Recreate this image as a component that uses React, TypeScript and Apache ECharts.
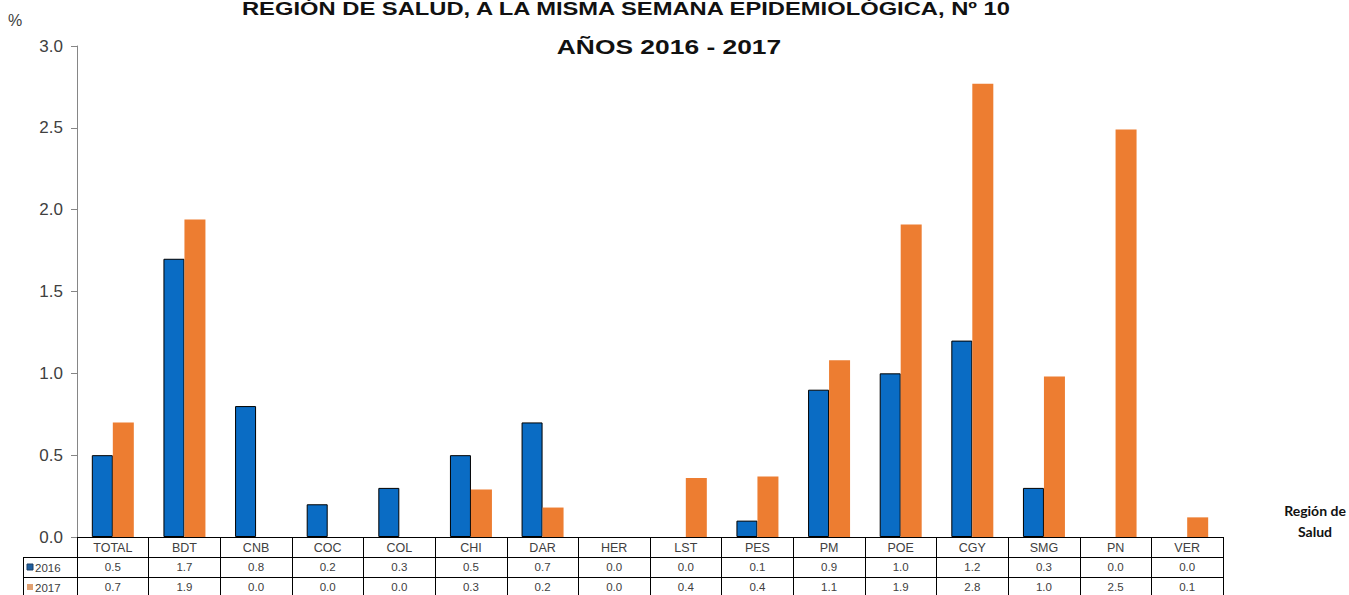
import React, { useEffect, useRef } from "react";
import * as echarts from "echarts";

const categories = ["TOTAL", "BDT", "CNB", "COC", "COL", "CHI", "DAR", "HER", "LST", "PES", "PM", "POE", "CGY", "SMG", "PN", "VER"];
const values2016 = [0.5, 1.7, 0.8, 0.2, 0.3, 0.5, 0.7, 0.0, 0.0, 0.1, 0.9, 1.0, 1.2, 0.3, 0.0, 0.0];
const values2017 = [0.7, 1.94, 0.0, 0.0, 0.0, 0.29, 0.18, 0.0, 0.36, 0.37, 1.08, 1.91, 2.77, 0.98, 2.49, 0.12];
const seriesNames = ["2016", "2017"];
const yTicks = [0, 0.5, 1.0, 1.5, 2.0, 2.5, 3.0];

const BLUE = "#0A6CC4";
const ORANGE = "#ED7D31";
const TXT = "#404040";
const FONT = "'Liberation Sans', Arial, sans-serif";

export default function App() {
  const ref = useRef<HTMLDivElement>(null);

  useEffect(() => {
    if (!ref.current) return;
    const chart = echarts.init(ref.current, undefined, { renderer: "svg" });

    const tableAxis = (offset: number, values: number[]) => ({
      type: "category",
      position: "bottom",
      offset,
      data: categories,
      axisLine: { show: true, lineStyle: { color: "#000", width: 1 } },
      axisTick: { show: false },
      axisLabel: {
        interval: 0,
        margin: 4,
        fontSize: 11.5,
        color: TXT,
        fontFamily: FONT,
        formatter: (_v: string, i: number) => values[i].toFixed(1),
      },
    });

    const barData = (values: number[]) =>
      values.map((v) => (v === 0 ? { value: v, itemStyle: { borderWidth: 0, opacity: 0 } } : v));

    chart.setOption({
      animation: false,
      grid: { left: 77, right: 126, top: 46, bottom: 58, containLabel: false },
      xAxis: [
        {
          type: "category",
          position: "bottom",
          data: categories,
          axisLine: { show: true, lineStyle: { color: "#000", width: 1 } },
          axisTick: { show: true, interval: 0, length: 62, lineStyle: { color: "#000", width: 1 } },
          axisLabel: { interval: 0, margin: 4, fontSize: 12.5, color: TXT, fontFamily: FONT },
        },
        tableAxis(20, values2016),
        tableAxis(40, values2017),
      ],
      yAxis: {
        type: "value",
        min: 0,
        max: 3,
        interval: 0.5,
        axisLine: { show: true, lineStyle: { color: "#868686" } },
        axisTick: { show: true, length: 6, lineStyle: { color: "#868686" } },
        splitLine: { show: false },
        axisLabel: {
          margin: 14,
          fontSize: 17,
          color: TXT,
          fontFamily: FONT,
          formatter: (v: number) => (yTicks.includes(v) ? v.toFixed(1) : ""),
        },
      },
      series: [
        {
          name: seriesNames[0],
          type: "bar",
          xAxisIndex: 0,
          data: barData(values2016),
          barWidth: 21,
          barGap: "0%",
          itemStyle: { color: BLUE, borderColor: "#000", borderWidth: 1 },
        },
        {
          name: seriesNames[1],
          type: "bar",
          xAxisIndex: 0,
          data: barData(values2017),
          barWidth: 21,
          barGap: "0%",
          itemStyle: { color: ORANGE, borderColor: ORANGE, borderWidth: 0 },
        },
      ],
      graphic: [
        {
          type: "text",
          x: 626,
          y: 9,
          scaleX: 1.32,
          style: {
            x: 0,
            y: 0,
            text: "REGIÓN DE SALUD, A LA MISMA SEMANA EPIDEMIOLÓGICA, Nº 10",
            font: `bold 18px ${FONT}`,
            fill: "#111",
            textAlign: "center",
            textVerticalAlign: "middle",
          },
        },
        {
          type: "text",
          x: 669,
          y: 47,
          scaleX: 1.32,
          style: {
            x: 0,
            y: 0,
            text: "AÑOS 2016 - 2017",
            font: `bold 20px ${FONT}`,
            fill: "#111",
            textAlign: "center",
            textVerticalAlign: "middle",
          },
        },
        {
          type: "text",
          x: 8,
          y: 20,
          style: { text: "%", font: `16px ${FONT}`, fill: TXT, textVerticalAlign: "middle" },
        },
        {
          type: "text",
          x: 1315,
          y: 510,
          style: {
            text: "Región de",
            font: "bold 14px Lato, 'Open Sans', sans-serif",
            fill: "#111",
            textAlign: "center",
            textVerticalAlign: "middle",
          },
        },
        {
          type: "text",
          x: 1315,
          y: 531,
          style: {
            text: "Salud",
            font: "bold 14px Lato, 'Open Sans', sans-serif",
            fill: "#111",
            textAlign: "center",
            textVerticalAlign: "middle",
          },
        },
        { type: "line", shape: { x1: 23, y1: 557.5, x2: 77, y2: 557.5 }, style: { stroke: "#000", lineWidth: 1 } },
        { type: "line", shape: { x1: 23, y1: 577.5, x2: 77, y2: 577.5 }, style: { stroke: "#000", lineWidth: 1 } },
        { type: "line", shape: { x1: 23.5, y1: 557, x2: 23.5, y2: 600 }, style: { stroke: "#000", lineWidth: 1 } },
        { type: "rect", shape: { x: 27, y: 564, width: 6, height: 6 }, style: { fill: "#1F5F9F", stroke: "#1A3F66", lineWidth: 1 } },
        {
          type: "text",
          x: 35,
          y: 567.5,
          style: { text: seriesNames[0], font: `11.5px ${FONT}`, fill: TXT, textVerticalAlign: "middle" },
        },
        { type: "rect", shape: { x: 27, y: 584, width: 6, height: 6 }, style: { fill: "#E0A070" } },
        {
          type: "text",
          x: 35,
          y: 587.5,
          style: { text: seriesNames[1], font: `11.5px ${FONT}`, fill: TXT, textVerticalAlign: "middle" },
        },
      ],
    });

    return () => chart.dispose();
  }, []);

  return (
    <div
      ref={ref}
      style={{ position: "absolute", left: 0, top: 0, width: 1349, height: 595, background: "#fff" }}
    />
  );
}
